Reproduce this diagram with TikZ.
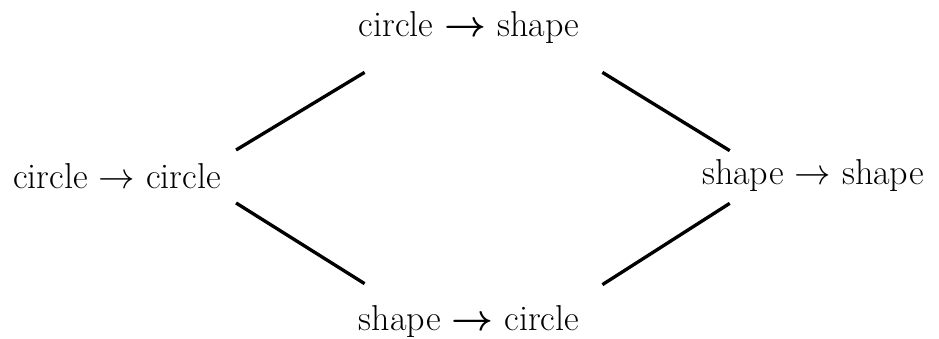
\documentclass[tikz,border=0pt]{standalone}
\usepackage{amsmath,amssymb}
\usepackage{tikz}
\usetikzlibrary{calc,positioning}
\usepackage{xcolor}

\begin{document}
\begin{tikzpicture}[
      x=0.02cm, y=-0.02cm,
      every node/.style={font=\fontsize{20.5}{25}\selectfont, inner sep=0pt},
      edge/.style={line width=1.9pt}
    ]
      \useasboundingbox (0,0) rectangle (939,338);
      \node (cc) at (117,176) {circle $\rightarrow$ circle};
      \node (cs) at (469,28) {circle $\boldsymbol{\rightarrow}$ shape};
      \node (sc) at (469,322) {shape $\boldsymbol{\rightarrow}$ circle};
      \node (ss) at (813,176) {shape $\rightarrow$ shape};

      \draw[edge] ($(cc.east)+(15,-26)$) -- ($(cs.south west)+(6,28)$);
      \draw[edge] ($(cs.south east)+(23,28)$) -- ($(ss.north west)+(28,-9)$);
      \draw[edge] ($(cc.east)+(15,27)$) -- ($(sc.north west)+(6,-22)$);
      \draw[edge] ($(sc.north east)+(23,-21)$) -- ($(ss.south west)+(28,11)$);
    \end{tikzpicture}
\end{document}
